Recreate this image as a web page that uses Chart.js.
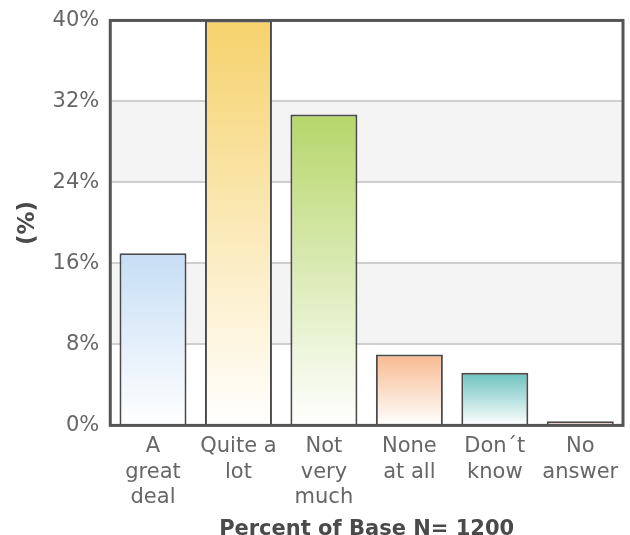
<!DOCTYPE html>
<html>
    <head>
        <title>Chart</title>
        <script src="https://cdn.jsdelivr.net/npm/chart.js@4"></script>
        <style>
            body { margin: 0; background: #fff; }
            #wrap { width: 630px; height: 535px; }
        </style>
    </head>
    <body>
        <div id="wrap"><canvas id="chart"></canvas></div>

        <script>
            const categories = [
                ['A', 'great', 'deal'],
                ['Quite a', 'lot'],
                ['Not', 'very', 'much'],
                ['None', 'at all'],
                ['Don\u00b4t', 'know'],
                ['No', 'answer'],
            ]
            const values = [17, 40, 30.7, 7, 5.2, 0.4]
            // top colour of each bar, fading to white at the base
            const topColors = ['#c6def5', '#f6d26c', '#b6d66a', '#f8ba90', '#6cc2bf', '#eeb0ae']
            const yTicks = [0, 8, 16, 24, 32, 40]

            const font = 'DejaVu Sans, Verdana, sans-serif'

            // alternating grey bands behind the bars and a frame round the plot
            const bands = {
                id: 'bands',
                beforeDraw(chart) {
                    const { ctx, chartArea: a, scales: { y } } = chart
                    ctx.save()
                    ctx.fillStyle = '#f4f4f4'
                    for (let i = 1; i < yTicks.length - 1; i += 2) {
                        const top = y.getPixelForValue(yTicks[i + 1])
                        const bot = y.getPixelForValue(yTicks[i])
                        ctx.fillRect(a.left, top, a.right - a.left, bot - top)
                    }
                    ctx.restore()
                },
                afterDraw(chart) {
                    const { ctx, chartArea: a } = chart
                    ctx.save()
                    ctx.strokeStyle = '#555'
                    ctx.lineWidth = 3
                    ctx.strokeRect(a.left, a.top, a.right - a.left, a.bottom - a.top)
                    ctx.restore()
                },
            }

            new Chart('chart', {
                type: 'bar',
                data: {
                    labels: categories,
                    datasets: [
                        {
                            data: values,
                            backgroundColor: (c) => {
                                const { ctx, chartArea, scales } = c.chart
                                if (!chartArea) return topColors[c.dataIndex]
                                const top = scales.y.getPixelForValue(c.raw)
                                const bot = scales.y.getPixelForValue(0)
                                const g = ctx.createLinearGradient(0, top, 0, bot)
                                g.addColorStop(0, topColors[c.dataIndex])
                                g.addColorStop(1, '#ffffff')
                                return g
                            },
                            borderColor: '#4a4a4a',
                            borderWidth: 2,
                            borderSkipped: 'start',
                            categoryPercentage: 0.8,
                            barPercentage: 0.98,
                        },
                    ],
                },
                options: {
                    responsive: true,
                    maintainAspectRatio: false,
                    animation: false,
                    layout: { padding: { top: 3, right: 7, left: 14, bottom: -5 } },
                    plugins: {
                        legend: { display: false },
                        tooltip: { enabled: false },
                    },
                    scales: {
                        x: {
                            grid: { display: false, drawTicks: false },
                            border: { display: false },
                            ticks: {
                                color: '#666',
                                font: { family: font, size: 21, lineHeight: 1.2 },
                                maxRotation: 0,
                                autoSkip: false,
                                padding: 9,
                            },
                            title: {
                                display: true,
                                text: 'Percent of Base N= 1200',
                                color: '#4a4a4a',
                                font: { family: font, size: 21, weight: 'bold', lineHeight: 1 },
                                padding: { top: 0, bottom: 0 },
                            },
                        },
                        y: {
                            min: 0,
                            max: 40,
                            afterBuildTicks: (axis) => {
                                axis.ticks = yTicks.map((v) => ({ value: v }))
                            },
                            grid: { color: '#cfcfcf', lineWidth: 2, drawTicks: false },
                            border: { display: false },
                            ticks: {
                                color: '#666',
                                font: { family: font, size: 21, lineHeight: 0.9 },
                                padding: 11,
                                callback: (v) => v + '%',
                            },
                            title: {
                                display: true,
                                text: '(%)',
                                color: '#4a4a4a',
                                font: { family: font, size: 23, weight: 'bold' },
                                padding: { top: 0, bottom: 0 },
                            },
                        },
                    },
                },
                plugins: [bands],
            })
        </script>
    </body>
</html>
